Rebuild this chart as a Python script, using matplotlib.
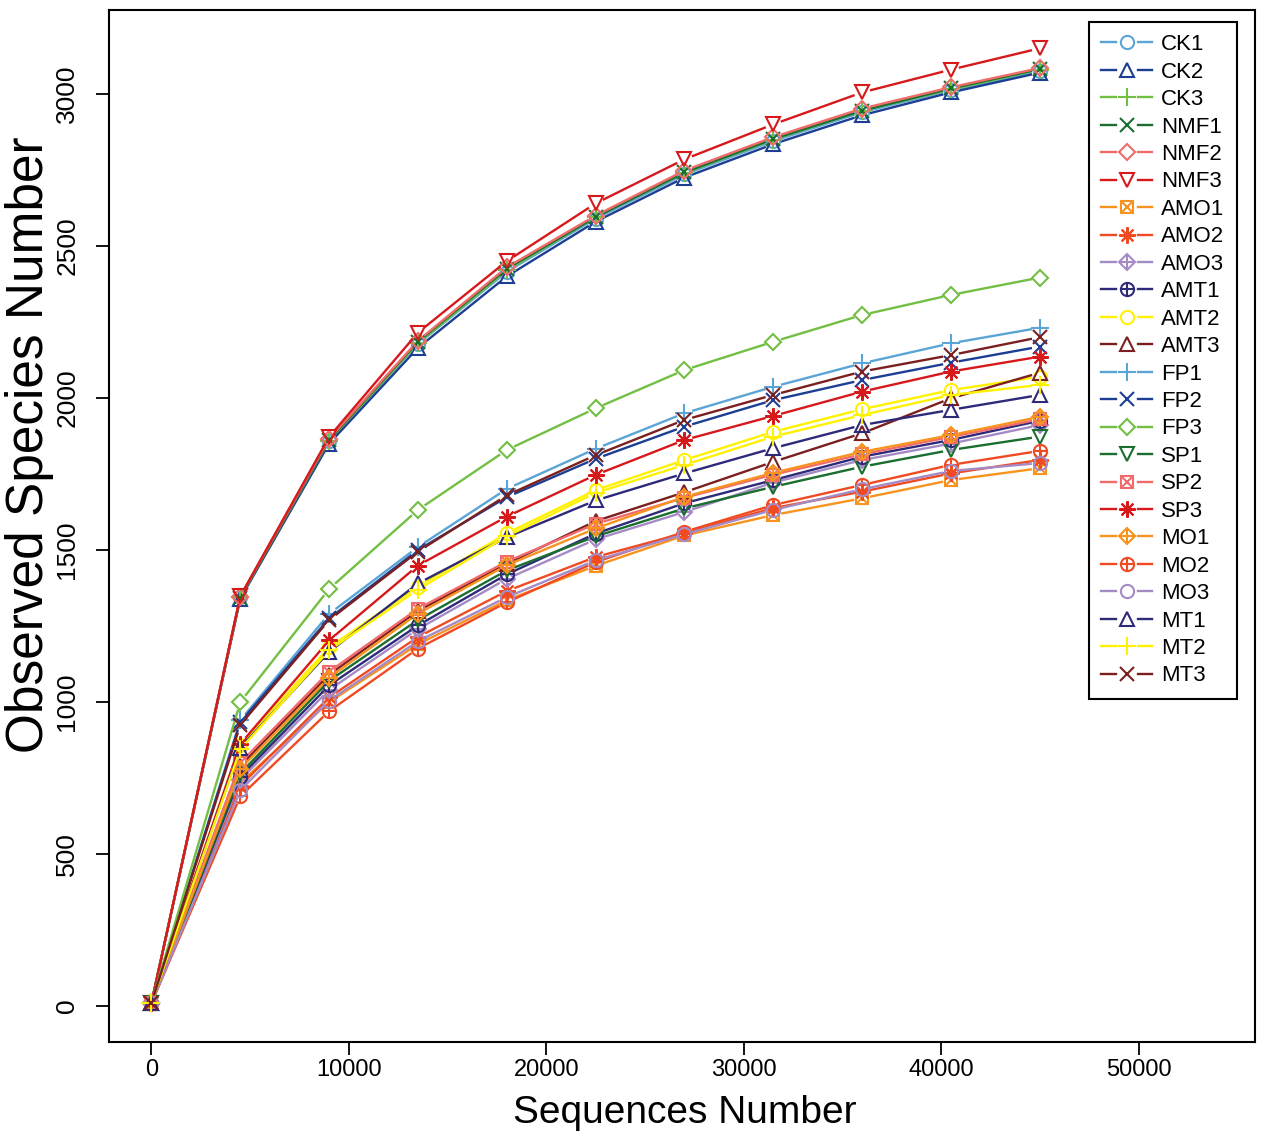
import matplotlib
matplotlib.use('Agg')
import numpy as np
import matplotlib.pyplot as plt
from matplotlib.lines import Line2D
from matplotlib.collections import LineCollection
from matplotlib.legend_handler import HandlerBase

# ---------------------------DATA------------------------------------#
seqs = [0, 4500, 9000, 13500, 18000, 22500, 27000, 31500, 36000, 40500, 45000]

samples = ['CK1', 'CK2', 'CK3', 'NMF1', 'NMF2', 'NMF3', 'AMO1', 'AMO2', 'AMO3', 'AMT1', 'AMT2', 'AMT3',
           'FP1', 'FP2', 'FP3', 'SP1', 'SP2', 'SP3', 'MO1', 'MO2', 'MO3', 'MT1', 'MT2', 'MT3']

CK1  = [10, 1345, 1858, 2178, 2415, 2590, 2735, 2845, 2940, 3012, 3075]
CK2  = [10, 1340, 1850, 2165, 2400, 2580, 2725, 2835, 2930, 3005, 3070]
CK3  = [10, 1345, 1860, 2180, 2420, 2595, 2740, 2850, 2945, 3015, 3080]
NMF1 = [10, 1343, 1862, 2185, 2425, 2595, 2742, 2852, 2945, 3018, 3082]
NMF2 = [10, 1347, 1866, 2188, 2430, 2600, 2748, 2858, 2952, 3022, 3085]
NMF3 = [10, 1348, 1872, 2215, 2450, 2640, 2785, 2900, 3005, 3080, 3150]
AMO1 = [10, 735, 1000, 1190, 1335, 1448, 1548, 1615, 1670, 1730, 1769]
AMO2 = [10, 725, 1015, 1214, 1365, 1477, 1556, 1638, 1692, 1752, 1796]
AMO3 = [10, 745, 1040, 1240, 1405, 1535, 1625, 1722, 1796, 1850, 1911]
AMT1 = [10, 755, 1055, 1252, 1420, 1554, 1654, 1730, 1807, 1862, 1925]
AMT2 = [10, 860, 1180, 1380, 1555, 1697, 1796, 1889, 1963, 2026, 2070]
AMT3 = [10, 790, 1090, 1300, 1455, 1595, 1690, 1790, 1884, 1999, 2083]
FP1  = [10, 940, 1290, 1510, 1701, 1833, 1950, 2037, 2114, 2180, 2231]
FP2  = [10, 934, 1275, 1500, 1674, 1800, 1906, 1993, 2059, 2116, 2169]
FP3  = [10, 1000, 1372, 1632, 1829, 1966, 2092, 2185, 2273, 2339, 2396]
SP1  = [10, 765, 1070, 1270, 1433, 1545, 1637, 1708, 1774, 1829, 1873]
SP2  = [10, 800, 1100, 1307, 1462, 1586, 1672, 1748, 1815, 1872, 1930]
SP3  = [10, 862, 1203, 1449, 1610, 1747, 1862, 1941, 2021, 2087, 2136]
MO1  = [10, 780, 1080, 1291, 1450, 1571, 1675, 1754, 1823, 1878, 1938]
MO2  = [10, 690, 970, 1176, 1328, 1460, 1560, 1648, 1714, 1780, 1826]
MO3  = [10, 710, 1005, 1200, 1345, 1466, 1552, 1632, 1700, 1760, 1786]
MT1  = [10, 850, 1165, 1390, 1542, 1663, 1752, 1835, 1911, 1961, 2010]
MT2  = [10, 845, 1170, 1370, 1545, 1688, 1780, 1873, 1944, 2010, 2043]
MT3  = [10, 925, 1270, 1495, 1680, 1812, 1928, 2010, 2087, 2141, 2200]

series = [CK1, CK2, CK3, NMF1, NMF2, NMF3, AMO1, AMO2, AMO3, AMT1, AMT2, AMT3,
          FP1, FP2, FP3, SP1, SP2, SP3, MO1, MO2, MO3, MT1, MT2, MT3]

# 12 colour pairs, recycled
palette = ['#5aa5d6', '#1c3f94', '#72bf44', '#1a6e2e', '#f26b6b', '#d7191c',
           '#f7931e', '#f04a23', '#a58bc6', '#2e2a7a', '#fff200', '#7b1f1f']

# R pch 1..10 built from matplotlib markers (marker, size factor)
pch = {
    1: [('o', 1.0)],
    2: [('^', 1.1)],
    3: [('+', 1.3)],
    4: [('x', 1.05)],
    5: [('D', 0.85)],
    6: [('v', 1.1)],
    7: [('s', 0.9), ('x', 0.9)],
    8: [((8, 2, 0), 1.25)],
    9: [('D', 0.85), ('+', 1.2)],
    10: [('o', 1.0), ('+', 1.0)],
}

MS = 9.5
MEW = 1.5
LW = 1.7
GAP = 8  # px, gap between line and point like R type="b"

font = ['Liberation Sans', 'DejaVu Sans']

W, H = 1268, 1144
fig = plt.figure(figsize=(W / 100, H / 100), dpi=100)
L, R, T, B = 109, 1255, 10, 1042
ax = fig.add_axes([L / W, 1 - B / H, (R - L) / W, (B - T) / H])
ax.set_xlim(-2150, 55900)
ax.set_ylim(-118, 3276)

fig.canvas.draw()
tr = ax.transData
inv = tr.inverted()

for i, (name, ys) in enumerate(zip(samples, series)):
    col = palette[i % 12]
    pts = tr.transform(np.column_stack([seqs, ys]))
    segs = []
    for p0, p1 in zip(pts[:-1], pts[1:]):
        d = p1 - p0
        ln = np.hypot(*d)
        if ln <= 2 * GAP:
            continue
        u = d / ln
        segs.append(inv.transform([p0 + u * GAP, p1 - u * GAP]))
    ax.add_collection(LineCollection(segs, colors=col, linewidths=LW, capstyle='butt'))
    for mk, sc in pch[i % 10 + 1]:
        ax.plot(seqs, ys, ls='none', marker=mk, ms=MS * sc, mew=MEW,
                mfc='none', mec=col)


class GapHandler(HandlerBase):
    def create_artists(self, legend, orig, xdescent, ydescent, width, height, fontsize, trans):
        col, p = orig.get_gid()
        y = height / 2 - ydescent
        x0, x1 = -xdescent, width - xdescent
        xm = (x0 + x1) / 2
        g = 8
        arts = [Line2D([x0, xm - g], [y, y], color=col, lw=LW),
                Line2D([xm + g, x1], [y, y], color=col, lw=LW)]
        for mk, sc in pch[p]:
            arts.append(Line2D([xm], [y], ls='none', marker=mk, ms=MS * sc, mew=MEW,
                               mfc='none', mec=col))
        for a in arts:
            a.set_transform(trans)
        return arts


handles = []
for i, name in enumerate(samples):
    h = Line2D([], [], color=palette[i % 12])
    h.set_gid((palette[i % 12], i % 10 + 1))
    handles.append(h)

leg = ax.legend(handles, samples, loc='upper left',
                bbox_to_anchor=(1089 / W, 1 - 22 / H), bbox_transform=fig.transFigure,
                borderaxespad=0, fancybox=False, framealpha=1, edgecolor='black',
                handler_map={Line2D: GapHandler()},
                prop={'family': font, 'size': 16},
                handlelength=2.3, handletextpad=0.4, labelspacing=0.29, borderpad=0.55)
leg.get_frame().set_linewidth(1.5)

ax.set_xticks([0, 10000, 20000, 30000, 40000, 50000])
ax.set_yticks([0, 500, 1000, 1500, 2000, 2500, 3000])
ax.tick_params(axis='both', length=9.5, width=1.3, direction='out')
ax.tick_params(axis='x', pad=3)
ax.tick_params(axis='y', pad=12)
for t in ax.get_xticklabels():
    t.set_fontfamily(font)
    t.set_fontsize(17)
for t in ax.get_yticklabels():
    t.set_fontfamily(font)
    t.set_fontsize(19)
    t.set_rotation(90)
    t.set_verticalalignment('center')
for s in ax.spines.values():
    s.set_linewidth(1.5)

fig.text(685 / W, 1 - 1113 / H, 'Sequences Number', ha='center', va='center',
         family=font, fontsize=28)
fig.text(30 / W, 1 - 445 / H, 'Observed Species Number', ha='center', va='center',
         rotation=90, family=font, fontsize=37)

plt.savefig('out.png', dpi=100)
